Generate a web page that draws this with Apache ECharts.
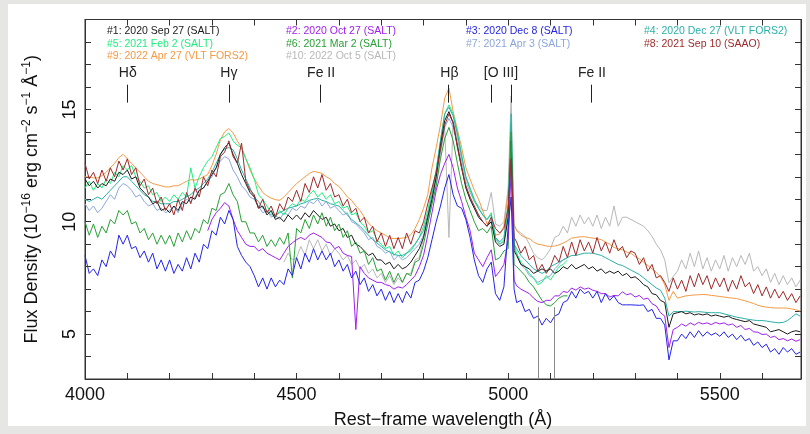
<!DOCTYPE html>
<html><head><meta charset="utf-8">
<script src="https://cdn.jsdelivr.net/npm/echarts@6/dist/echarts.min.js"></script>
<style>html,body{margin:0;padding:0;background:#e6e6e4;}#c{width:810px;height:434px;}</style>
</head><body><div id="c"></div>
<script>
// Rest-frame wavelength grid (Å)
const wave = [
4000,4010,4020,4030,4040,4050,4060,4070,4080,4090,
4100,4110,4120,4130,4140,4150,4160,4170,4180,4190,
4200,4210,4220,4230,4240,4250,4260,4270,4280,4290,
4300,4310,4320,4330,4340,4350,4360,4370,4380,4390,
4400,4410,4420,4430,4440,4450,4460,4470,4480,4490,
4500,4510,4520,4530,4540,4550,4560,4570,4580,4590,
4600,4610,4620,4630,4640,4650,4660,4670,4680,4690,
4700,4710,4720,4730,4740,4750,4760,4770,4780,4790,
4800,4810,4820,4830,4840,4850,4860,4870,4880,4890,
4900,4910,4920,4930,4940,4950,4960,4970,4980,4990,
5000,5007,5014,5020,5030,5040,5050,5060,5070,5080,5090,
5100,5110,5120,5130,5140,5150,5160,5170,5180,5190,
5200,5210,5220,5230,5240,5250,5260,5270,5280,5290,
5300,5310,5320,5330,5340,5350,5360,5370,5380,5390,
5400,5410,5420,5430,5440,5450,5460,5470,5480,5490,
5500,5510,5520,5530,5540,5550,5560,5570,5580,5590,
5600,5610,5620,5630,5640,5650,5660,5670,5680,5690];

// #1 2020 Sep 27 (SALT)
const flux1 = [
11.9,11.6,11.8,11.5,11.7,11.6,11.9,11.8,12.2,12.1,
12.3,11.9,12.0,11.5,11.3,11.1,10.8,10.9,10.5,10.6,
10.4,10.7,10.5,10.9,10.8,11.1,11.0,11.4,11.5,11.8,
12.1,12.4,13.0,13.3,13.5,13.0,12.6,12.1,11.7,11.3,
11.1,10.6,10.7,10.3,10.5,10.1,10.2,10.0,10.3,10.1,
10.3,10.1,10.4,10.2,10.5,10.3,10.1,10.2,9.8,9.9,
9.6,9.7,9.3,9.4,9.0,8.9,8.7,8.5,8.6,8.3,
8.3,8.1,8.2,7.9,8.1,7.9,8.0,8.2,8.5,8.8,
9.3,10.2,11.0,12.0,13.4,14.5,14.9,14.4,13.4,12.4,
11.5,11.0,10.6,10.2,10.0,9.8,10.0,9.1,8.9,9.0,
10.2,13.6,8.7,8.5,8.1,8.0,7.9,7.7,7.8,7.9,7.8,
7.9,7.7,7.8,8.0,7.9,8.1,7.9,8.0,8.1,7.9,
8.0,7.8,7.9,7.7,7.8,7.7,7.8,7.6,7.7,7.5,
7.55,7.4,7.2,7.1,6.8,6.75,6.5,6.4,5.3,5.9,
5.95,6.0,5.9,5.95,5.85,5.9,5.85,5.9,5.8,5.85,
5.8,5.75,5.8,5.7,5.65,5.6,5.55,5.6,5.45,5.4,
5.35,5.3,5.1,5.15,5.2,5.1,5.0,5.1,5.15,5.1];

// #2 2020 Oct 27 (SALT)
const flux2 = [
null,null,null,null,null,null,null,null,null,null,
null,null,null,null,null,null,null,null,null,null,
null,null,null,null,null,null,null,null,null,9.6,
10.1,10.4,10.6,10.85,10.7,10.1,9.6,9.3,9.0,8.9,
8.9,8.7,8.8,8.6,8.5,8.4,8.3,8.6,8.9,9.06,
9.2,9.3,9.2,9.4,9.5,9.4,9.3,9.1,9.06,8.8,
8.9,8.6,8.5,8.45,5.2,8.0,7.7,7.5,7.4,7.3,
7.3,7.2,7.15,7.0,7.1,7.05,7.2,7.4,7.6,8.0,
8.5,9.4,10.4,11.4,12.1,12.6,13.0,12.4,11.5,10.9,
10.2,9.6,8.6,8.3,8.0,8.4,8.75,7.56,7.8,8.1,
9.2,12.3,7.4,7.15,7.0,6.9,6.8,6.6,6.45,6.4,6.5,
6.5,6.7,6.7,6.9,6.85,7.05,6.95,7.1,7.0,7.05,
6.95,6.9,6.8,6.8,6.65,6.72,6.7,6.88,6.75,6.8,
6.65,6.72,6.55,6.6,6.35,6.25,5.95,5.8,4.4,5.2,
5.3,5.45,5.35,5.5,5.4,5.52,5.45,5.5,5.42,5.52,
5.45,5.5,5.4,5.45,5.3,5.38,5.2,5.25,5.1,5.08,
4.98,5.0,4.85,4.9,4.75,4.8,4.7,4.78,4.68,4.75];

// #3 2020 Dec 8 (SALT)
const flux3 = [
8.5,7.7,7.9,7.6,8.3,8.0,8.7,8.4,9.4,9.0,
9.4,8.8,8.9,8.4,8.7,8.2,8.6,7.9,8.3,7.8,
8.3,7.7,8.1,7.8,8.4,7.9,8.6,8.2,9.0,8.8,
9.6,9.4,10.2,9.9,10.5,10.1,8.9,8.5,8.2,8.0,
7.6,7.1,7.5,7.0,7.5,7.1,7.4,7.2,7.9,7.6,
8.4,7.9,8.6,8.2,8.8,8.3,8.7,8.3,8.6,8.0,
8.3,7.8,8.1,7.5,7.8,7.2,7.5,6.9,7.2,6.7,
7.0,6.5,6.9,6.4,6.8,6.4,6.9,6.6,7.3,7.4,
7.8,8.4,9.2,10.0,10.7,11.5,12.1,11.2,10.7,10.6,
10.1,9.3,8.3,7.6,7.3,7.9,8.2,6.8,6.5,7.1,
9.8,11.1,7.0,6.4,6.5,6.0,6.1,5.7,5.8,5.4,5.7,
5.5,5.8,5.9,6.4,6.5,6.9,6.6,7.0,6.8,6.9,
6.6,6.9,6.4,6.8,6.5,6.7,6.4,6.3,6.3,6.3,
6.29,6.28,6.3,6.0,6.1,5.7,5.7,5.4,3.85,4.7,
4.7,5.0,4.8,5.1,4.85,5.15,4.9,5.1,4.95,5.05,
4.9,5.1,4.85,5.0,4.75,4.95,4.7,4.8,4.5,4.65,
4.4,4.55,4.2,4.35,4.1,4.4,4.2,4.35,4.1,4.2];

// #4 2020 Dec 27 (VLT FORS2)
const flux4 = [
11.0,10.9,11.0,11.1,11.0,11.2,11.4,11.6,11.8,12.0,
12.0,11.8,11.6,11.4,11.2,11.1,10.9,10.9,10.8,10.8,
10.8,10.9,10.9,11.0,11.1,11.2,11.4,11.5,11.7,11.9,
12.2,12.6,13.0,13.25,13.3,13.2,12.8,12.3,11.9,11.5,
11.1,10.9,10.6,10.5,10.3,10.3,10.4,10.5,10.6,10.65,
10.7,10.8,10.85,10.95,11.0,11.05,10.95,10.9,10.8,10.75,
10.7,10.5,10.3,10.1,9.95,9.8,9.6,9.4,9.2,9.05,
8.9,8.75,8.65,8.55,8.5,8.5,8.6,8.8,9.0,9.3,
9.6,10.3,11.2,12.3,13.6,14.8,15.1,14.7,13.9,12.9,
12.0,11.5,11.0,10.6,10.3,10.1,10.3,9.3,9.1,9.3,
10.8,14.8,9.0,8.8,8.5,8.3,8.1,7.9,7.8,7.7,7.8,
8.0,8.1,8.2,8.3,8.4,8.5,8.5,8.55,8.6,8.6,
8.6,8.55,8.5,8.4,8.3,8.2,8.1,8.05,7.95,7.85,
7.75,7.65,7.5,7.35,7.2,7.05,6.95,6.6,5.8,6.0,
6.0,6.0,6.02,6.0,5.98,6.0,5.98,5.96,5.95,5.95,
5.95,5.9,5.85,5.8,5.75,5.72,5.68,5.65,5.62,5.6,
5.6,5.58,5.55,5.52,5.5,5.52,5.6,5.75,5.9,5.8];

// #5 2021 Feb 2 (SALT)
const flux5 = [
11.5,11.8,11.4,11.7,11.5,11.9,11.7,12.2,12.0,12.5,
12.3,12.5,12.0,11.8,11.5,11.6,11.2,11.3,10.9,11.1,
10.9,11.2,11.0,11.3,11.1,12.4,11.5,12.0,12.4,12.7,
12.9,13.3,13.7,13.8,13.95,13.6,13.4,13.3,12.8,12.4,
11.9,11.2,11.0,10.7,10.4,10.2,10.5,10.3,10.6,10.8,
10.7,11.0,10.9,11.2,11.4,11.1,11.3,11.0,11.2,10.8,
10.9,10.6,10.7,10.3,10.4,10.0,9.8,9.5,9.6,9.2,
9.0,8.8,8.9,8.5,8.7,8.4,8.6,8.7,9.0,9.3,
9.8,10.5,11.4,12.3,13.6,14.8,15.2,14.8,14.0,13.0,
12.0,11.4,10.9,10.6,10.3,10.1,10.4,9.3,9.0,9.2,
10.5,14.4,9.0,8.6,8.2,8.0,7.7,7.5,7.2,7.3,7.6,
7.4,7.7,8.0,8.1,8.3,null,null,null,null,null,
null,null,null,null,null,null,null,null,null,null,
null,null,null,null,null,null,null,null,null,null,
null,null,null,null,null,null,null,null,null,null,
null,null,null,null,null,null,null,null,null,null,
null,null,null,null,null,null,null,null,null,null];

// #6 2021 Mar 2 (SALT)
const flux6 = [
10.0,9.4,9.9,9.3,9.8,9.5,10.1,9.9,10.5,10.3,
10.5,9.9,10.0,9.5,9.7,9.2,9.5,9.0,9.4,9.0,
9.4,8.9,9.5,9.1,9.6,9.2,9.7,9.5,10.1,9.9,
10.6,10.5,11.2,11.3,11.7,11.2,10.9,10.0,10.0,9.5,
9.5,9.1,9.4,8.9,9.2,8.9,9.3,9.0,9.5,7.5,
9.7,9.5,10.1,9.7,10.3,9.9,10.4,9.8,10.2,9.6,
9.9,9.3,9.6,8.9,9.1,8.6,8.7,8.1,8.4,7.8,
7.9,7.4,7.8,7.3,7.7,7.3,7.7,7.6,8.2,8.3,
9.0,9.9,10.8,11.6,12.8,13.7,14.2,13.6,12.6,11.7,
11.0,10.5,10.0,9.6,9.7,9.5,9.8,8.3,8.4,8.7,
8.8,14.0,8.1,8.0,7.8,7.6,7.3,7.1,6.8,6.5,6.3,
6.25,6.4,6.6,6.7,6.7,null,null,null,null,null,
null,null,null,null,null,null,null,null,null,null,
null,null,null,null,null,null,null,null,null,null,
null,null,null,null,null,null,null,null,null,null,
null,null,null,null,null,null,null,null,null,null,
null,null,null,null,null,null,null,null,null,null];

// #7 2021 Apr 3 (SALT)
const flux7 = [
10.8,10.5,10.7,10.4,10.6,10.9,11.2,11.0,11.5,11.7,
11.6,11.4,11.1,11.2,10.9,10.7,10.8,10.5,10.6,10.4,
10.5,10.7,10.4,10.8,11.0,10.9,11.1,11.4,11.5,11.8,
12.0,12.4,12.7,12.9,12.8,12.3,12.0,11.6,11.4,11.1,
11.0,10.7,10.4,10.5,10.2,10.3,10.1,10.4,10.3,10.6,
10.5,10.7,10.6,10.9,10.8,11.0,10.7,10.9,10.6,10.7,
10.5,10.3,10.4,10.0,9.9,9.7,9.5,9.2,9.3,8.9,
8.8,8.6,8.7,8.3,8.5,8.3,8.4,8.6,8.8,9.0,
9.4,10.0,11.0,12.0,13.2,14.2,14.6,14.2,13.4,12.5,
11.6,11.0,10.6,10.3,10.0,9.8,10.1,9.2,9.0,9.1,
10.2,13.4,8.8,8.6,8.1,7.9,7.6,7.5,7.3,7.4,7.5,
7.6,7.9,8.1,8.3,8.4,null,null,null,null,null,
null,null,null,null,null,null,null,null,null,null,
null,null,null,null,null,null,null,null,null,null,
null,null,null,null,null,null,null,null,null,null,
null,null,null,null,null,null,null,null,null,null,
null,null,null,null,null,null,null,null,null,null];

// #8 2021 Sep 10 (SAAO)
const flux8 = [
12.6,11.9,12.2,11.7,12.3,11.8,12.4,12.0,12.7,12.3,
12.8,12.1,12.4,11.6,11.9,11.2,11.5,10.8,11.1,10.5,
10.8,10.3,11.0,10.5,11.3,10.8,11.5,11.1,12.0,11.6,
12.3,12.0,12.9,13.1,13.6,12.9,12.6,13.5,11.8,11.4,
11.2,10.6,11.0,10.4,10.7,10.2,10.8,10.5,11.1,10.9,
11.4,10.9,11.7,11.3,12.0,11.5,12.1,11.4,11.7,11.1,
11.2,10.7,11.0,10.4,10.6,10.0,10.2,9.5,9.8,9.1,
9.5,8.9,9.4,8.8,9.3,8.8,9.5,9.0,9.6,9.5,
10.0,10.8,11.5,12.2,13.2,14.3,14.8,14.4,13.3,12.4,
11.6,11.1,10.7,10.3,10.0,9.8,10.2,9.7,9.5,9.7,
10.6,12.8,9.3,9.1,8.6,8.9,8.3,8.5,7.8,8.1,7.7,
8.0,8.5,8.2,8.9,8.4,9.1,8.5,9.2,8.7,9.1,
8.6,9.3,8.7,9.1,8.6,9.2,8.7,8.9,8.4,8.7,
8.6,8.1,8.4,7.8,8.1,7.5,7.6,7.3,6.9,7.5,
7.0,7.4,6.9,7.6,7.1,7.7,7.2,7.6,7.0,7.5,
7.1,7.5,6.9,7.4,7.0,7.6,7.1,7.3,6.8,7.2,
6.7,7.1,6.6,7.0,6.6,6.9,6.5,6.8,6.4,6.7];

// #9 2022 Apr 27 (VLT FORS2)
const flux9 = [
12.0,12.0,11.95,11.95,12.05,12.2,12.4,12.6,12.85,13.0,
12.8,12.6,12.4,12.2,12.0,11.8,11.7,11.65,11.6,11.55,
11.55,11.6,11.6,11.7,11.8,11.87,11.85,11.9,12.0,12.1,
12.5,13.0,13.65,14.0,14.15,13.95,13.6,13.3,12.8,12.3,
11.9,11.6,11.3,11.15,11.05,10.98,10.95,11.1,11.3,11.5,
11.7,11.85,12.0,12.15,12.24,12.2,12.15,12.0,11.9,11.7,
11.57,11.35,11.1,10.95,10.7,10.5,10.2,9.94,9.75,9.6,
9.5,9.4,9.27,9.25,9.25,9.27,9.3,9.42,9.7,10.1,
10.6,11.2,12.4,13.3,14.3,15.5,15.95,14.9,14.1,13.3,
12.4,11.9,11.4,11.0,10.5,9.9,10.1,9.4,9.45,9.8,
11.3,13.8,9.9,9.6,9.4,9.3,9.25,9.1,9.0,8.97,8.92,
8.9,8.92,8.97,9.05,9.15,9.27,9.3,9.33,9.33,9.3,
9.27,9.25,9.2,9.1,9.0,8.85,8.8,8.75,8.65,8.6,
8.45,8.35,8.2,8.05,7.9,7.75,7.55,7.2,6.5,6.9,
6.6,6.65,6.7,6.72,6.74,6.75,6.76,6.75,6.72,6.7,
6.67,6.65,6.62,6.6,6.58,6.53,6.48,6.42,6.36,6.28,
6.23,6.2,6.18,6.16,6.16,6.16,6.15,6.12,6.08,6.02];

// #10 2022 Oct 5 (SALT)
const flux10 = [
null,null,null,null,null,null,null,null,null,null,
null,null,null,null,null,null,null,null,null,null,
null,null,null,null,null,null,null,null,null,null,
null,null,null,null,null,null,null,null,null,null,
null,null,null,null,null,null,null,8.2,8.6,8.3,
8.4,8.9,8.5,9.2,8.8,9.2,8.7,9.0,8.5,8.8,
8.6,8.3,8.5,8.1,8.3,7.9,8.1,7.7,7.9,7.5,
7.7,7.3,7.6,7.2,7.5,7.3,7.7,7.7,8.3,8.4,
9.3,9.9,10.8,11.7,13.0,14.2,9.3,14.5,13.7,12.7,
11.8,11.3,10.9,10.7,10.5,10.5,11.3,9.9,9.8,10.0,
11.5,15.6,9.8,9.64,9.5,9.35,9.0,8.6,8.4,8.3,8.5,
8.8,9.3,9.4,9.8,9.5,10.2,9.8,10.3,9.9,10.2,
9.8,10.3,9.7,10.2,9.8,10.7,9.8,10.2,10.2,10.1,
10.0,9.9,9.8,9.6,9.35,9.0,8.75,8.3,7.28,7.56,
7.8,8.3,7.9,8.6,8.0,8.7,7.9,8.4,7.8,8.3,
7.9,8.5,7.8,8.4,8.0,8.5,8.1,8.6,7.8,8.0,
7.6,7.9,7.3,7.7,7.2,7.6,7.2,7.5,7.1,7.4];

const seriesNames = [
'#1: 2020 Sep 27 (SALT)','#2: 2020 Oct 27 (SALT)','#3: 2020 Dec 8 (SALT)','#4: 2020 Dec 27 (VLT FORS2)',
'#5: 2021 Feb 2 (SALT)','#6: 2021 Mar 2 (SALT)','#7: 2021 Apr 3 (SALT)','#8: 2021 Sep 10 (SAAO)',
'#9: 2022 Apr 27 (VLT FORS2)','#10: 2022 Oct 5 (SALT)'];
const seriesColors = ['#1a1a1a','#a020f0','#2323e8','#2bb0a8','#22ee80','#28a035','#8ca6dc','#9e2a2a','#f59a45','#b8b8b8'];
const fluxes = [flux1,flux2,flux3,flux4,flux5,flux6,flux7,flux8,flux9,flux10];
const drawOrder = [9,8,6,4,3,0,5,1,7,2];

// Line identifications
const lineNames = ['Hδ','Hγ','Fe II','Hβ','[O III]','Fe II'];
const lineLabelWave = [4101,4340,4558,4861,4983,5198];
const lineTickWave = [4101,4340,4555,4858,4959,5007,5196];
const lineTickFlux = [15.3,16.1];
const lineLabelFlux = 16.62;
// bad-pixel columns
const badPixWave = [5071,5109];
const badPixFlux = [6.2,3.0];

const FONT = '"Liberation Sans", Arial, Helvetica, sans-serif';
const chart = echarts.init(document.getElementById('c'), null, {renderer:'canvas'});

const series = drawOrder.map(i => {
  const s = {
    name: seriesNames[i], type:'line', showSymbol:false, symbol:'none', animation:false,
    data: wave.map((w,k)=>[w, fluxes[i][k]]),
    lineStyle:{color:seriesColors[i], width:1}, itemStyle:{color:seriesColors[i]},
    connectNulls:false, silent:true, z: 2
  };
  if (i === 0) {
    s.markLine = {silent:true, symbol:['none','none'], animation:false,
      lineStyle:{color:'#222', width:1, type:'solid'}, label:{show:false},
      data: lineTickWave.map(w => [{coord:[w,lineTickFlux[0]]},{coord:[w,lineTickFlux[1]]}])};
    s.markPoint = {silent:true, animation:false, symbol:'circle', symbolSize:0,
      data: lineNames.map((n,k)=>({coord:[lineLabelWave[k], lineLabelFlux], name:n})),
      label:{show:true, position:'inside', formatter:'{b}', color:'#222', fontSize:14, fontFamily:FONT}};
  }
  if (i === 9) {
    s.markLine = {silent:true, symbol:['none','none'], animation:false,
      lineStyle:{color:'#8a8a8a', width:1, type:'solid'}, label:{show:false},
      data: badPixWave.map(w => [{coord:[w,badPixFlux[0]]},{coord:[w,badPixFlux[1]]}])};
  }
  return s;
});

const legendX = [107,286,466,644];
const legendY = [31,44,56.5];
const graphic = [{type:'rect', z:-10, silent:true, shape:{x:8,y:4,width:798,height:422}, style:{fill:'#ffffff'}}];
seriesNames.forEach((n,i)=>{
  graphic.push({type:'text', silent:true, x:legendX[i%4], y:legendY[Math.floor(i/4)],
    style:{text:n, fill:seriesColors[i], font:'10.5px '+FONT, textAlign:'left', textVerticalAlign:'middle'}});
});

const axisCommon = {axisLine:{show:true, lineStyle:{color:'#333'}}, splitLine:{show:false}};
chart.setOption({
  animation:false,
  backgroundColor:'transparent',
  grid:{left:85, right:9, top:19.5, bottom:55, show:true, borderColor:'#333', borderWidth:1, backgroundColor:'transparent'},
  xAxis:[
    Object.assign({type:'value', min:4000, max:5692, interval:100, position:'bottom',
      axisTick:{inside:true, length:6, lineStyle:{color:'#333'}},
      axisLabel:{fontSize:18, color:'#111', fontFamily:FONT, margin:7, formatter:v=> (v%500===0 ? String(v) : '')},
      name:'Rest\u2212frame wavelength (Å)', nameLocation:'middle', nameGap:32,
      nameTextStyle:{fontSize:18, color:'#111', fontFamily:FONT}}, axisCommon),
    Object.assign({type:'value', min:4000, max:5692, interval:100, position:'top',
      axisTick:{inside:true, length:6, lineStyle:{color:'#333'}}, axisLabel:{show:false}}, axisCommon)
  ],
  yAxis:[
    Object.assign({type:'value', min:3, max:19, interval:1, position:'left',
      axisTick:{inside:true, length:6, lineStyle:{color:'#333'}},
      axisLabel:{fontSize:18, color:'#111', fontFamily:FONT, rotate:90, margin:6, formatter:v=> (v%5===0 ? String(v) : '')},
      name:'{n|Flux Density (10}{s|\u221216}{n| erg cm}{s|\u22122}{n| s}{s|\u22121}{n| Å}{s|\u22121}{n|)}',
      nameLocation:'middle', nameGap:42, nameRotate:90,
      nameTextStyle:{fontSize:18, color:'#111', fontFamily:FONT,
        rich:{n:{fontSize:18, color:'#111', fontFamily:FONT, lineHeight:22, verticalAlign:'middle'},
              s:{fontSize:12, color:'#111', fontFamily:FONT, verticalAlign:'top', lineHeight:12}}}}, axisCommon),
    Object.assign({type:'value', min:3, max:19, interval:1, position:'right',
      axisTick:{inside:true, length:6, lineStyle:{color:'#333'}}, axisLabel:{show:false}}, axisCommon)
  ],
  graphic: graphic,
  series: series
});
</script></body></html>
